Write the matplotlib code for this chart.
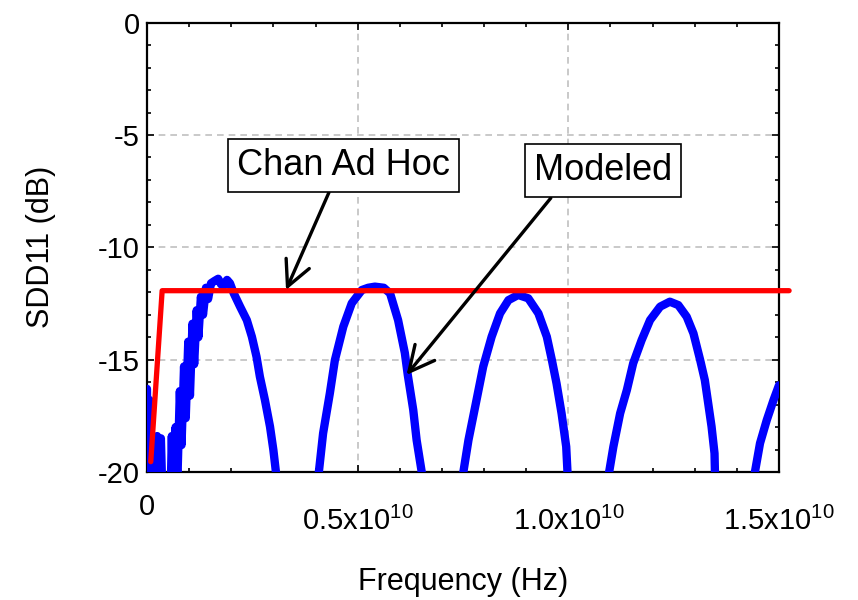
import numpy as np
import matplotlib
matplotlib.use('Agg')
from matplotlib import pyplot as plt
from matplotlib.ticker import MultipleLocator
from matplotlib.transforms import ScaledTranslation

plt.rcParams['font.family'] = ['Liberation Sans', 'DejaVu Sans']
plt.rcParams['mathtext.fontset'] = 'custom'
plt.rcParams['mathtext.rm'] = 'Liberation Sans'
plt.rcParams['mathtext.default'] = 'regular'
plt.rcParams['axes.unicode_minus'] = False

# modeled SDD11, frequency in GHz, values in dB (-22 = below the axis)
model_ghz = [0.0, 0.02, 0.06, 0.10, 0.14, 0.19, 0.24, 0.28, 0.33, 0.38,
             0.55, 0.59, 0.63, 0.68, 0.72, 0.78, 0.82, 0.88, 0.92, 0.98,
             1.02, 1.08, 1.12, 1.18, 1.22, 1.28, 1.33, 1.40, 1.45, 1.52,
             1.60, 1.69, 1.76, 1.82, 1.90, 1.97, 2.06, 2.21, 2.37, 2.49,
             2.60, 2.68, 2.80, 2.92, 3.00, 3.06, 3.10,
             4.04, 4.08, 4.18, 4.34, 4.46, 4.66, 4.86, 5.10, 5.25, 5.41,
             5.62, 5.77, 5.96, 6.12, 6.19, 6.32, 6.40, 6.52, 6.56,
             7.47, 7.51, 7.63, 7.79, 7.98, 8.18, 8.38, 8.58, 8.81, 9.05,
             9.29, 9.49, 9.61, 9.72, 9.84, 9.95, 9.98, 10.00,
             10.93, 10.97, 11.07, 11.23, 11.39, 11.54, 11.74, 11.94, 12.18,
             12.41, 12.61, 12.81, 12.97, 13.13, 13.24, 13.32, 13.40, 13.47,
             13.48, 13.50,
             14.39, 14.43, 14.55, 14.71, 14.87, 15.00]
model_db = [-16.3, -22, -16.8, -22, -19.0, -22, -18.4, -22, -18.5, -22,
            -22, -18.4, -22, -18.0, -20.5, -16.4, -18.8, -15.3, -17.6, -14.2,
            -16.6, -13.4, -15.2, -12.8, -14.0, -12.2, -13.0, -11.8, -12.3, -11.6,
            -11.5, -11.4, -11.65, -11.7, -11.45, -11.6, -12.05, -12.64, -13.24, -13.98,
            -14.87, -15.76, -16.8, -17.98, -19.02, -19.99, -22,
            -22, -19.99, -18.28, -16.5, -15.02, -13.53, -12.49, -11.9, -11.8, -11.75,
            -11.8, -12.05, -13.24, -14.7, -15.68, -17.24, -18.58, -19.99, -22,
            -22, -19.99, -18.58, -17.09, -15.31, -13.98, -12.94, -12.35, -12.12, -12.27,
            -12.94, -13.98, -15.02, -16.05, -17.39, -18.87, -19.99, -22,
            -22, -19.99, -18.87, -17.39, -16.35, -15.16, -14.13, -13.24, -12.64,
            -12.42, -12.57, -13.09, -13.83, -15.02, -15.91, -16.94, -17.98, -19.17,
            -19.99, -22,
            -22, -19.99, -18.72, -17.69, -16.8, -16.14]

# channel ad hoc mask
adhoc_ghz = [0.09, 0.36, 15.24]
adhoc_db = [-19.54, -11.93, -11.93]

xticks = [0, 0.5e10, 1.0e10, 1.5e10]
xtick_labels = ['0', '0.5x10$^{10}$', '1.0x10$^{10}$', '1.5x10$^{10}$']
yticks = [0, -5, -10, -15, -20]

fig = plt.figure(figsize=(8.58, 6), dpi=100)
ax = fig.add_axes([0.1713, 0.2133, 0.7366, 0.749])

ax.plot(np.array(model_ghz) * 1e9, model_db, color='#0000ff', lw=6,
        solid_capstyle='round', solid_joinstyle='round', zorder=3)
ax.plot(np.array(adhoc_ghz) * 1e9, adhoc_db, color='#ff0000', lw=3.8,
        solid_capstyle='round', clip_on=False, zorder=4)

ax.set_xlim(0, 1.5e10)
ax.set_ylim(-20, 0)
ax.set_xticks(xticks)
ax.set_xticklabels(xtick_labels)
ax.set_yticks(yticks)
ax.xaxis.set_minor_locator(MultipleLocator(0.1e10))
ax.yaxis.set_minor_locator(MultipleLocator(1))
ax.tick_params(which='both', direction='in', top=True, right=True, width=1.2)
ax.tick_params(which='major', length=5, labelsize=21)
ax.tick_params(axis='x', which='major', pad=15)
ax.tick_params(axis='y', which='major', pad=5)
ax.tick_params(which='minor', length=3)
ax.grid(True, which='major', color='#c0c0c0', ls=(0, (4, 3)), lw=1.2)
for s in ax.spines.values():
    s.set_linewidth(1.6)

# labels with an exponent sit lower than the plain "0"
shift = ScaledTranslation(0, -0.14, fig.dpi_scale_trans)
for lab in ax.get_xticklabels()[1:]:
    lab.set_transform(lab.get_transform() + shift)

ax.set_xlabel('Frequency (Hz)', fontsize=22, labelpad=22)
ax.set_ylabel('SDD11 (dB)', fontsize=22, labelpad=30)

box = dict(boxstyle='square,pad=0.25', fc='white', ec='black', lw=1.2)
ax.annotate('Chan Ad Hoc', xy=(3.30e9, -11.9), xytext=(4.67e9, -6.36),
            fontsize=26, ha='center', va='center', bbox=box, zorder=6,
            arrowprops=dict(arrowstyle='->,head_length=0.7,head_width=0.35',
                            lw=2.4, color='black', relpos=(0.45, 0),
                            shrinkA=0, shrinkB=0))
ax.annotate('Modeled', xy=(6.16e9, -15.68), xytext=(10.82e9, -6.6),
            fontsize=26, ha='center', va='center', bbox=box, zorder=6,
            arrowprops=dict(arrowstyle='->,head_length=0.7,head_width=0.35',
                            lw=2.4, color='black', relpos=(0.18, 0),
                            shrinkA=0, shrinkB=0))

plt.savefig('out.png', dpi=100)
